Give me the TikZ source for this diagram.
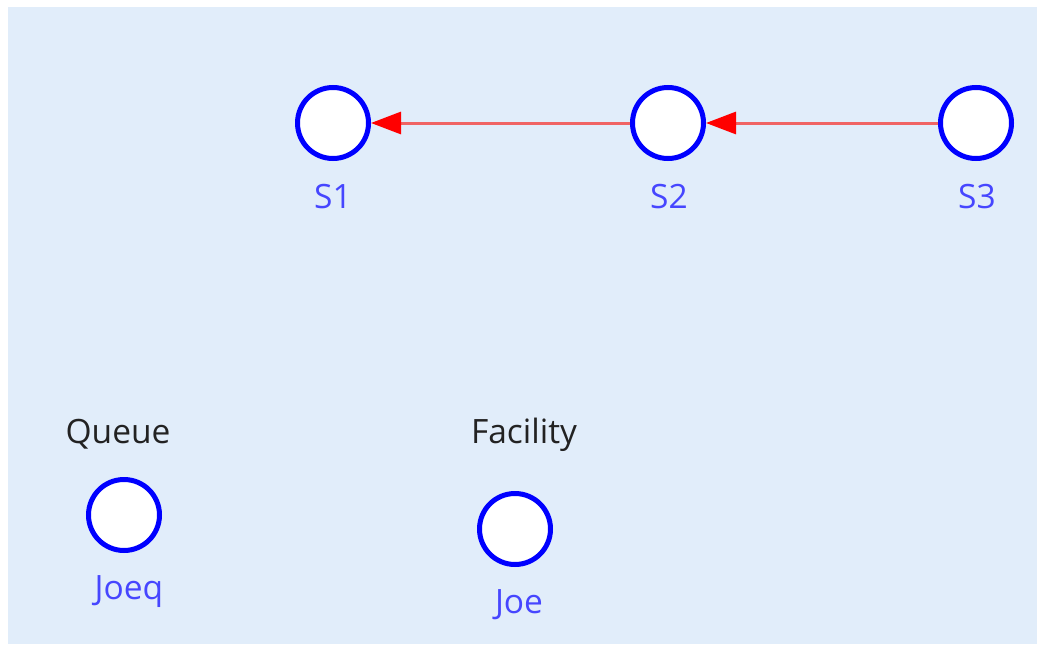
\documentclass[tikz,border=0pt]{standalone}
\usepackage{fontspec}
\setmainfont{Open Sans}
\usetikzlibrary{arrows.meta}
\definecolor{bg}{RGB}{225,237,250}
\definecolor{lbl}{RGB}{70,70,255}
\definecolor{ttl}{RGB}{34,34,34}
\definecolor{edgered}{RGB}{240,100,100}
\begin{document}
\begin{tikzpicture}[x=1pt,y=-1pt,
  state/.style={circle,draw=blue,fill=white,line width=5pt,minimum size=71pt,inner sep=0pt},
  lab/.style={text=lbl,anchor=base,inner sep=0pt,font=\fontsize{33.5}{38}\selectfont},
  title/.style={text=ttl,anchor=base,inner sep=0pt,font=\fontsize{33.5}{38}\selectfont},
  arr/.style={draw=edgered,line width=3pt,-{Triangle[length=30pt,width=22pt,color=red]}}]
\useasboundingbox (0,0) rectangle (1039,645);
\fill[bg] (8,7) rectangle (1037,644);
\node[state] (s1) at (333,123) {};
\node[state] (s2) at (668,123) {};
\node[state] (s3) at (976,123) {};
\node[lab] (l1) at (333,208) {S1};
\node[lab] (l2) at (669,208) {S2};
\node[lab] (l3) at (977,208) {S3};
\draw[arr] (s3) -- (s2);
\draw[arr] (s2) -- (s1);
\node[title] (tq) at (118,443) {Queue};
\node[title] (tf) at (524,443) {Facility};
\node[state] (joeq) at (124,515) {};
\node[state] (joe) at (515,529) {};
\node[lab] (lq) at (129,599) {Joeq};
\node[lab] (lj) at (519,613) {Joe};
\end{tikzpicture}
\end{document}
